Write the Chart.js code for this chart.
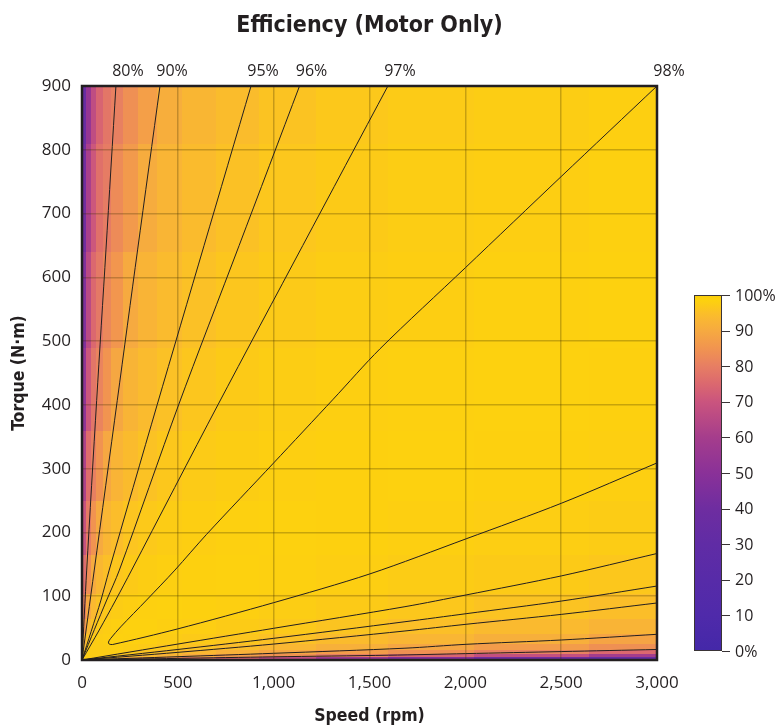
<!DOCTYPE html>
<html>
<head>
<meta charset="utf-8">
<script src="https://cdn.jsdelivr.net/npm/chart.js@4.4.1/dist/chart.umd.min.js"></script>
<style>
  html, body { margin: 0; padding: 0; background: #fff; }
  canvas { display: block; }
</style>
</head>
<body>
<canvas id="chart" width="783" height="727"></canvas>
<script>
// grid nodes of the efficiency map
const speeds = [0, 15, 35, 60, 90, 130, 180, 250, 340, 450, 600, 800, 1050, 1400, 1800, 2300, 3000];
const torques = [0, 3, 7, 12, 20, 32, 50, 80, 130, 200, 300, 420, 560, 720, 900];

// efficiency (%), one row per torque node (bottom to top)
const efficiency = [
  [20, 20, 20, 20, 20, 20, 20, 20, 20, 20, 20, 20, 20, 20, 20, 20, 20],
  [12, 97.5, 97.5, 96.9, 95.6, 94.2, 92.4, 90, 86.6, 84.1, 80, 73.5, 66.5, 57, 48.4, 41, 35],
  [12, 97.3, 97.5, 97.5, 97.5, 97.1, 96.1, 95, 93.6, 92, 89.8, 86.8, 84.1, 80, 74.2, 68.3, 59.7],
  [12, 96, 97.5, 97.5, 97.5, 97.5, 97.4, 96.8, 95.8, 94.8, 93.5, 91.8, 89.4, 86.8, 84.1, 80.7, 75],
  [12, 93.7, 97, 97.5, 97.5, 97.7, 98.1, 97.7, 97.2, 96.5, 95.6, 94.5, 93.2, 91.4, 89.1, 86.9, 84.1],
  [12, 90.4, 95.3, 97.1, 97.7, 97.9, 98.4, 98.2, 98, 97.5, 97, 96.2, 95.3, 94.1, 92.9, 91.2, 88.7],
  [12, 84.8, 93.4, 95.8, 97, 97.7, 98.1, 98.4, 98.4, 98.1, 97.8, 97.3, 96.8, 95.9, 95, 93.9, 92.5],
  [12, 79.9, 89.6, 93.7, 95.5, 96.7, 97.4, 97.9, 98.2, 98.4, 98.3, 98, 97.6, 97.1, 96.5, 95.8, 94.8],
  [12, 75.9, 83.7, 90.2, 93.3, 95, 96.2, 97.1, 97.7, 98, 98.3, 98.4, 98.2, 97.9, 97.5, 97.1, 96.5],
  [12, 69, 79.4, 84.8, 90, 93, 94.5, 96, 96.8, 97.4, 97.9, 98.2, 98.4, 98.3, 98.1, 97.8, 97.4],
  [12, 62, 76.1, 80.5, 84.8, 89.5, 92.5, 94.2, 95.5, 96.5, 97.2, 97.7, 98, 98.3, 98.4, 98.3, 98],
  [12, 52.4, 70.7, 78.1, 81.4, 85.1, 89.4, 92.4, 94, 95.3, 96.3, 97.1, 97.6, 98, 98.2, 98.4, 98.3],
  [12, 46.5, 65.8, 74.9, 78.9, 82.2, 85.5, 89.9, 92.5, 94, 95.3, 96.3, 97, 97.6, 97.9, 98.2, 98.4],
  [12, 40.7, 61, 70.7, 76.9, 79.6, 83, 86.4, 90.4, 92.7, 94.2, 95.4, 96.4, 97.1, 97.6, 97.9, 98.2],
  [12, 36, 54.5, 67, 74, 78.2, 80.5, 84, 87.6, 91, 93.1, 94.4, 95.7, 96.6, 97.2, 97.6, 98]
];

// iso-efficiency contours, [speed, torque]; upper branch runs from the top edge
// down to the origin, lower branch from the origin out to 3,000 rpm
const contourLevels = [80, 90, 95, 96, 97, 98];
const upper80 = [[177, 900], [125, 643], [76.5, 407], [24.5, 141], [0, 0]];
const lower80 = [[0, 0], [500, 2.5], [1000, 5], [1600, 7.5], [2000, 10], [2500, 13.2], [3000, 16.5]];
const upper90 = [[407, 900], [290, 643], [184, 407], [64, 141], [30, 66], [0, 0]];
const lower90 = [[0, 0], [500, 5.2], [1000, 10.5], [1685, 18.5], [2004, 24.6], [2503, 31.4], [3000, 40.3]];
const upper95 = [[882, 900], [637, 650], [392, 400], [142, 141], [99, 94], [48, 45], [0, 0]];
const lower95 = [[0, 0], [500, 12], [1000, 25], [1685, 45.5], [2004, 56], [2503, 71.6], [3000, 89.4]];
const upper96 = [[1135, 900], [820, 650], [504, 400], [195, 141], [129, 94], [65, 48], [0, 0]];
const lower96 = [[0, 0], [500, 16.5], [1000, 34], [1685, 60], [2004, 72.6], [2503, 92.5], [3000, 116]];
const upper97 = [[1596, 900], [1152, 650], [709, 400], [259, 141], [176, 94], [90, 47], [0, 0]];
const lower97 = [[0, 0], [500, 25], [1000, 49.7], [1685, 83.6], [2004, 102], [2503, 132], [3000, 167]];
// the 98 % contour is a closed tongue that turns near 140 rpm
const loop98 = [[3000, 900], [2500, 758], [2000, 615], [1555, 488], [1311, 409], [1000, 309], [650, 197], [485, 141], [337, 94], [202, 52], [150, 34], [138, 28], [142, 25], [160, 24.3], [497, 48.6], [1000, 89.9], [1502, 135], [2004, 190], [2503, 246], [3000, 309]];

const contourBranches = [upper80, lower80, upper90, lower90, upper95, lower95, upper96, lower96, upper97, lower97, loop98];
const labelledBranches = [upper80, upper90, upper95, upper96, upper97, loop98];

const colorbarTicks = [0, 10, 20, 30, 40, 50, 60, 70, 80, 90, 100];

// colour map (value -> rgb)
const colorStops = [
  [0, [68, 40, 168]], [10, [79, 42, 170]], [20, [87, 43, 168]], [30, [96, 44, 165]],
  [40, [110, 45, 160]], [50, [138, 49, 152]], [60, [165, 61, 140]], [70, [202, 84, 126]],
  [75, [219, 104, 111]], [80, [231, 126, 99]], [85, [241, 148, 80]], [90, [246, 170, 64]],
  [93, [249, 182, 52]], [95, [251, 191, 40]], [97, [252, 202, 24]], [98.5, [253, 209, 14]],
  [100, [250, 206, 8]]
];
const ink = '#231f20';
const tickFamily = '"Open Sans", "Noto Sans", sans-serif';
const titleFamily = '"Liberation Sans Narrow", "DejaVu Sans Condensed", sans-serif';

function colorFor(v) {
  for (let i = 0; i < colorStops.length - 1; i++) {
    const [v0, c0] = colorStops[i];
    const [v1, c1] = colorStops[i + 1];
    if (v <= v1) {
      const t = Math.max(0, (v - v0) / (v1 - v0));
      return 'rgb(' + c0.map((c, k) => Math.round(c + (c1[k] - c) * t)).join(',') + ')';
    }
  }
  return 'rgb(' + colorStops[colorStops.length - 1][1].join(',') + ')';
}

// cell edge halfway between neighbouring nodes
function cellEdges(nodes, i, max) {
  const lo = i === 0 ? nodes[0] : (nodes[i - 1] + nodes[i]) / 2;
  const hi = i === nodes.length - 1 ? max : (nodes[i] + nodes[i + 1]) / 2;
  return [lo, hi];
}

const heatmapPlugin = {
  id: 'heatmap',
  beforeDraw(chart) {
    const { ctx, chartArea: a, scales: { x, y } } = chart;
    ctx.save();
    ctx.beginPath();
    ctx.rect(a.left, a.top, a.width, a.height);
    ctx.clip();
    torques.forEach((t, r) => {
      const [t0, t1] = cellEdges(torques, r, y.max);
      const py0 = Math.floor(y.getPixelForValue(t1));
      const py1 = Math.ceil(y.getPixelForValue(t0));
      speeds.forEach((s, c) => {
        const [s0, s1] = cellEdges(speeds, c, x.max);
        const px0 = Math.floor(x.getPixelForValue(s0));
        const px1 = Math.ceil(x.getPixelForValue(s1));
        ctx.fillStyle = colorFor(efficiency[r][c]);
        ctx.fillRect(px0, py0, px1 - px0, py1 - py0);
      });
    });
    ctx.restore();
  }
};

const decorPlugin = {
  id: 'decor',
  afterDraw(chart) {
    const { ctx, chartArea: a, scales: { x } } = chart;
    ctx.save();
    // frame
    ctx.strokeStyle = ink;
    ctx.lineWidth = 2.5;
    ctx.strokeRect(a.left, a.top, a.width, a.height);

    // title
    ctx.fillStyle = ink;
    ctx.font = 'bold 23px ' + titleFamily;
    ctx.textAlign = 'center';
    ctx.textBaseline = 'middle';
    ctx.fillText('Efficiency (Motor Only)', (a.left + a.right) / 2, 26);

    // contour labels along the top edge
    ctx.font = '16px ' + tickFamily;
    labelledBranches.forEach((pts, i) => {
      ctx.fillText(contourLevels[i] + '%', x.getPixelForValue(pts[0][0]) + 12, 71);
    });

    // colour bar
    const bx = 694, bw = 28, top = 295, bottom = 651;
    const grad = ctx.createLinearGradient(0, bottom, 0, top);
    colorStops.forEach(([v, c]) => grad.addColorStop(v / 100, 'rgb(' + c.join(',') + ')'));
    ctx.fillStyle = grad;
    ctx.fillRect(bx, top, bw, bottom - top);
    ctx.lineWidth = 1;
    ctx.strokeStyle = '#3a3436';
    ctx.strokeRect(bx + 0.5, top + 0.5, bw - 1, bottom - top - 1);
    ctx.fillStyle = ink;
    ctx.textAlign = 'left';
    colorbarTicks.forEach(v => {
      const ty = bottom - (bottom - top) * v / 100;
      ctx.beginPath();
      ctx.moveTo(bx + bw, Math.round(ty) + 0.5);
      ctx.lineTo(bx + bw + 8, Math.round(ty) + 0.5);
      ctx.stroke();
      const label = (v === 0 || v === 100) ? v + '%' : String(v);
      ctx.fillText(label, bx + bw + 13, ty + 1);
    });
    ctx.restore();
  }
};

const datasets = contourBranches.map(pts => ({
  data: pts.map(([s, t]) => ({ x: s, y: t })),
  showLine: true,
  pointRadius: 0,
  borderColor: ink,
  borderWidth: 1,
  tension: 0.3,
  fill: false
}));

const gridStyle = { color: 'rgba(60,45,0,0.28)', lineWidth: 1.5, drawTicks: false };
const tickFont = { family: tickFamily, size: 17 };
const axisTitleFont = { family: titleFamily, size: 17.5, weight: 'bold' };

new Chart(document.getElementById('chart'), {
  type: 'scatter',
  data: { datasets },
  options: {
    responsive: false,
    animation: false,
    events: [],
    layout: { padding: { top: 86, right: 126, bottom: 0, left: 0 } },
    plugins: { legend: { display: false }, tooltip: { enabled: false } },
    scales: {
      x: {
        type: 'linear', min: 0, max: 3000,
        grid: gridStyle,
        border: { display: false },
        ticks: { stepSize: 500, padding: 13, color: ink, font: tickFont,
                 callback: v => v.toLocaleString('en-US') },
        title: { display: true, text: 'Speed (rpm)', color: ink, padding: 0, font: axisTitleFont },
        afterFit(s) { s.height = 67; }
      },
      y: {
        type: 'linear', min: 0, max: 900,
        grid: gridStyle,
        border: { display: false },
        ticks: { stepSize: 100, padding: 11, color: ink, font: tickFont },
        title: { display: true, text: 'Torque (N·m)', color: ink, padding: { top: 9 }, font: axisTitleFont },
        afterFit(s) { s.width = 82; }
      }
    }
  },
  plugins: [heatmapPlugin, decorPlugin]
});
</script>
</body>
</html>
